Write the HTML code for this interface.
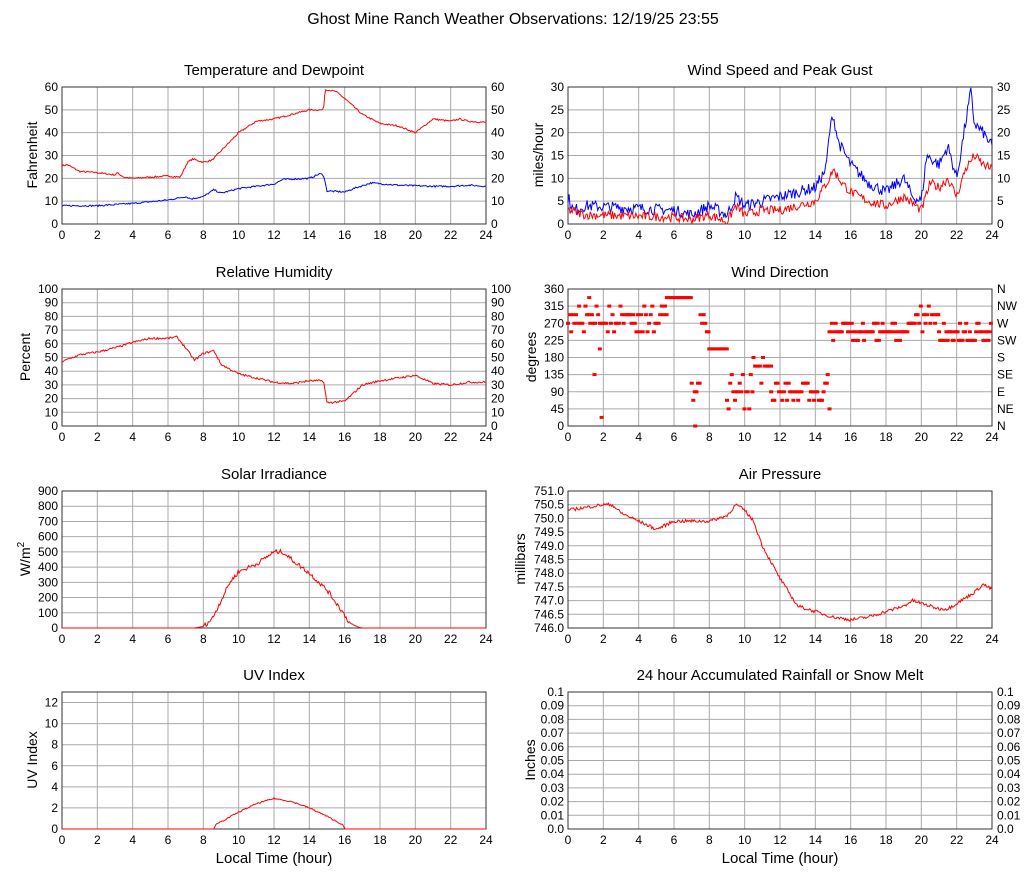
<!DOCTYPE html>
<html><head><meta charset="utf-8"><style>
body{margin:0;background:#fff;}
svg{display:block;font-family:"Liberation Sans",sans-serif;}
</style></head><body>
<svg id="s" width="1027" height="878" xmlns="http://www.w3.org/2000/svg"></svg>
<script>
var S=document.getElementById('s');var out='';
var seed=7;function rnd(){seed=(seed*16807)%2147483647;return seed/2147483647;}
function interp(k,t){if(t<=k[0][0])return k[0][1];for(var i=1;i<k.length;i++){if(t<=k[i][0]){var a=k[i-1],b=k[i];return a[1]+(b[1]-a[1])*(t-a[0])/(b[0]-a[0]);}}return k[k.length-1][1];}
function panel(o){
 var x0=o.x,x1=o.x+424,y0=o.y,y1=o.y+137,W=424,H=137;
 var mn=o.min,mx=o.max;
 function Y(v){v=Math.max(mn,Math.min(mx,v));return y1-H*(v-mn)/(mx-mn);}
 out+='<text x="'+(x0+212)+'" y="'+(y0-12)+'" font-size="15" text-anchor="middle">'+o.title+'</text>';
 var n=o.ticks.length-1;
 for(var i=0;i<=12;i++){var x=x0+W*i/12;out+='<line x1="'+x+'" y1="'+y0+'" x2="'+x+'" y2="'+y1+'" stroke="#aaa"/>';
  out+='<text x="'+x+'" y="'+(y1+15)+'" font-size="12" text-anchor="middle">'+(i*2)+'</text>';}
 for(var j=0;j<=n;j++){var y=o.tv?Y(o.tv[j]):y1-H*j/n;out+='<line x1="'+x0+'" y1="'+y+'" x2="'+x1+'" y2="'+y+'" stroke="#aaa"/>';
  out+='<text x="'+(x0-4)+'" y="'+(y+4)+'" font-size="12" text-anchor="end">'+o.ticks[j]+'</text>';
  if(o.rt)out+='<text x="'+(x1+5)+'" y="'+(y+4)+'" font-size="12">'+o.rt[j]+'</text>';}
 out+='<rect x="'+x0+'" y="'+y0+'" width="'+W+'" height="'+H+'" fill="none" stroke="#333"/>';
 out+='<text transform="translate('+(o.lx)+','+(y0+68)+') rotate(-90)" font-size="14" text-anchor="middle">'+o.ylab+'</text>';
 if(o.xlab)out+='<text x="'+(x0+212)+'" y="'+(y1+34)+'" font-size="15" text-anchor="middle">Local Time (hour)</text>';
 (o.series||[]).forEach(function(s){var p=[];for(var t=s.start||0;t<=(s.end||24);t+=0.06){var v=interp(s.k,t)+(rnd()-0.5)*s.nz*(s.nzf?s.nzf(t):1);if(s.floor!==undefined)v=Math.max(s.floor,v);p.push((x0+W*t/24).toFixed(1)+','+Y(v).toFixed(1));}
  out+='<polyline points="'+p.join(' ')+'" fill="none" stroke="'+s.c+'" stroke-width="1"/>';});
 if(o.dots){o.dots.forEach(function(d){out+='<rect x="'+(x0+W*d[0]/24-2).toFixed(1)+'" y="'+(Y(d[1])-1.5).toFixed(1)+'" width="4" height="3" fill="#f00"/>';});}
}
out+='<text x="513" y="24" font-size="16" text-anchor="middle">Ghost Mine Ranch Weather Observations: 12/19/25 23:55</text>';
var LX=62,RX=568;
panel({x:LX,y:87,title:'Temperature and Dewpoint',ticks:[0,10,20,30,40,50,60],rt:[0,10,20,30,40,50,60],min:0,max:60,ylab:'Fahrenheit',lx:37,
series:[{c:'#f00',nz:0.7,k:[[0,25.5],[0.3,26],[1,23],[2,22.5],[3,21.5],[3.1,22.5],[3.5,20.5],[4,20],[6,21],[6.7,20.5],[7.1,27],[7.4,28.5],[8,27],[8.5,28],[9.5,36],[10,40],[11,45],[12,46],[13,48],[14,50],[14.8,50],[14.9,59],[15.5,58],[16,55],[17,48],[18,44],[19,43],[20,40],[20.5,43],[21,46],[22,45],[22.5,46],[23,45],[24,44.5]]},
{c:'#00f',nz:0.7,k:[[0,8],[2,8],[4,9],[6,10.5],[7,12],[7.3,11],[8,12],[8.6,15],[9,13.5],[10,15.5],[12,17.5],[12.5,19.5],[14,20],[14.6,22],[14.8,21.5],[15,14.5],[16,14],[16.5,15.5],[17.5,18],[19,17],[21,16.5],[22,16.5],[23,17],[24,16.5]]}]});
panel({x:RX,y:87,title:'Wind Speed and Peak Gust',ticks:[0,5,10,15,20,25,30],rt:[0,5,10,15,20,25,30],min:0,max:30,ylab:'miles/hour',lx:543,
series:[{c:'#00f',nz:2.5,floor:0,k:[[0,6],[0.3,3],[1,4],[6,3],[7,2],[8,4],[9,2],[9.5,6],[10,4],[11,5],[12,6],[13,7],[14,8],[14.6,12],[14.8,20],[15,24],[15.3,18],[16,13],[17,9],[18,7],[19,10],[19.5,6],[20,5],[20.3,15],[21,13],[21.5,17],[22,10],[22.5,22],[22.8,29],[23,22],[23.5,20],[24,17]]},
{c:'#f00',nz:2,floor:0,k:[[0,3],[1,2],[6,1.5],[7,1],[8,2],[9,0.5],[9.5,4],[10,2],[11,3],[12,3],[13,4],[14,5],[14.8,10],[15,12],[15.5,9],[16,7],[17,5],[18,4],[19,6],[20,3],[20.5,9],[21,8],[21.5,10],[22,6],[22.5,12],[23,15],[23.5,13],[24,12]]}]});
panel({x:LX,y:289,title:'Relative Humidity',ticks:[0,10,20,30,40,50,60,70,80,90,100],rt:[0,10,20,30,40,50,60,70,80,90,100],min:0,max:100,ylab:'Percent',lx:30,
series:[{c:'#f00',nz:1.5,k:[[0,47],[1,52],[2,54],[3,57],[4,61],[5,64],[6,64],[6.5,65],[7,57],[7.5,48],[8,53],[8.6,55],[9,45],[10,38],[11,35],[12,32],[13,31],[14,33],[14.8,33],[15,17],[16,18],[16.5,24],[17,30],[18,33],[19,35],[20,37],[21,31],[22,30],[22.5,31],[23,32],[24,32]]}]});
var dots=[];
function dd(a,b,vals,step){for(var t=a;t<b;t+=step||0.09){dots.push([t,vals[Math.floor(rnd()*vals.length)]]);}}
dd(0,5.6,[270,292.5,292.5,292.5,315,247.5,270]);dots.push([1.2,337.5],[1.5,135],[1.8,202.5],[1.9,22.5]);
dd(5.6,7,[337.5]);dd(7,7.5,[67.5,135,112.5,90]);dots.push([7.2,0]);dd(7.5,8,[270,292.5,247.5]);dd(8,9,[202.5]);
dd(9,10.5,[45,67.5,112.5,135,90]);dd(10.5,11.5,[157.5,180,157.5,112.5]);dd(11.5,14.7,[67.5,90,112.5,90,112.5]);dots.push([14.8,45],[14.7,135]);
dd(14.8,19.7,[247.5,247.5,247.5,270,225,247.5],0.07);dd(19.7,21,[292.5,270,247.5,315,292.5]);dd(21,24,[247.5,225,225,247.5,270],0.07);
panel({x:RX,y:289,title:'Wind Direction',ticks:[0,45,90,135,180,225,270,315,360],rt:['N','NE','E','SE','S','SW','W','NW','N'],min:0,max:360,ylab:'degrees',lx:536,dots:dots});
panel({x:LX,y:491,title:'Solar Irradiance',ticks:[0,100,200,300,400,500,600,700,800,900],min:0,max:900,ylab:'W/m<tspan dy="-6" font-size="10">2</tspan>',lx:30,
series:[{c:'#f00',nz:30,floor:0,nzf:function(t){return(t>8&&t<16.5)?1:0;},k:[[0,0],[7.5,0],[8,10],[8.5,60],[9,180],[9.5,300],[10,370],[11,420],[12,500],[12.5,500],[13,450],[14,360],[15,250],[15.8,120],[16.3,30],[16.8,5],[17,0],[24,0]]}]});
panel({x:RX,y:491,title:'Air Pressure',ticks:['746.0','746.5','747.0','747.5','748.0','748.5','749.0','749.5','750.0','750.5','751.0'],min:746,max:751,ylab:'millibars',lx:525,
series:[{c:'#f00',nz:0.12,k:[[0,750.3],[1,750.4],[2,750.5],[2.5,750.5],[3,750.2],[4,749.9],[5,749.6],[6,749.9],[7,749.9],[8,749.9],[9,750.1],[9.5,750.5],[10,750.3],[10.5,749.9],[11,749.0],[12,747.8],[13,746.8],[14,746.6],[15,746.4],[16,746.3],[17,746.4],[18,746.6],[19,746.8],[19.5,747.0],[20,746.9],[21,746.7],[21.5,746.7],[22,746.9],[23,747.3],[23.5,747.6],[24,747.4]]}]});
panel({x:LX,y:692,title:'UV Index',ticks:[0,2,4,6,8,10,12],tv:[0,2,4,6,8,10,12],min:0,max:13,ylab:'UV Index',lx:37,xlab:1,
series:[{c:'#f00',nz:0.12,floor:0,nzf:function(t){return(t>8.7&&t<15.9)?1:0;},k:[[0,0],[8.6,0],[8.7,0.4],[10,1.6],[11,2.4],[12,2.9],[13,2.6],[14,2.0],[15,1.2],[15.9,0.4],[16,0],[24,0]]}]});
var rt=['0.0','0.01','0.02','0.03','0.04','0.05','0.06','0.07','0.08','0.09','0.1'];
panel({x:RX,y:692,title:'24 hour Accumulated Rainfall or Snow Melt',ticks:rt,rt:rt,min:0,max:0.1,ylab:'Inches',lx:535,xlab:1});
S.innerHTML=out;
</script>
</body></html>
